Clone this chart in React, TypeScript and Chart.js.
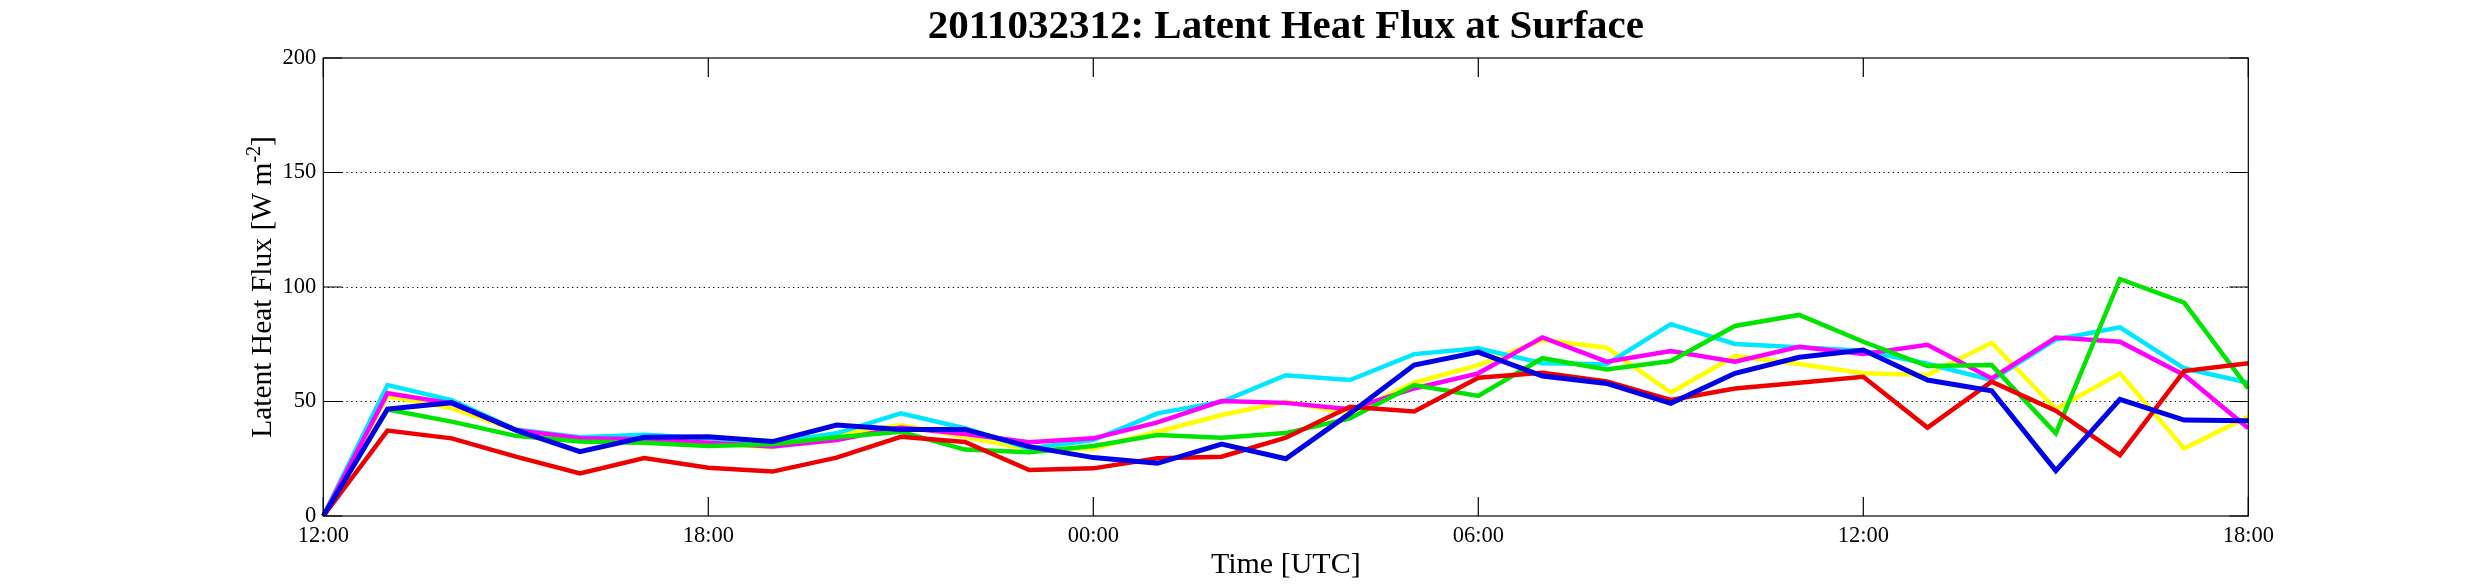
import React, { useEffect, useRef } from 'react';
import { Chart, registerables } from 'chart.js';

Chart.register(...registerables);

// hourly output, 2011-03-23 12 UTC to 2011-03-24 18 UTC
const timeLabels = [
  '12:00', '13:00', '14:00', '15:00', '16:00', '17:00', '18:00', '19:00', '20:00', '21:00', '22:00', '23:00',
  '00:00', '01:00', '02:00', '03:00', '04:00', '05:00', '06:00', '07:00', '08:00', '09:00', '10:00', '11:00',
  '12:00', '13:00', '14:00', '15:00', '16:00', '17:00', '18:00',
];

const yellowFlux = [0, 52.4, 47, 37.5, 33, 34, 32, 30, 35.5, 39.7, 34.6, 29.1, 29.5, 36.8, 44.1, 49.9,
  44.8, 58.2, 65.9, 76.9, 73.5, 53.9, 69.9, 66.4, 62.3, 61.6, 75.7, 46.6, 62.3, 29.5, 43.4];
const cyanFlux = [0, 57.2, 50.6, 37.8, 34.4, 35.5, 33.9, 32, 36.1, 44.8, 38.3, 29.5, 33.2, 44.8, 49.9, 61.5,
  59.4, 70.7, 73.2, 66.7, 66.3, 83.8, 75.1, 73.7, 72.2, 66.5, 59.4, 77.1, 82.4, 64.5, 58.2];
const magentaFlux = [0, 53.6, 49.2, 37.5, 34, 33.5, 32, 30.3, 33.2, 38.6, 35.8, 32.2, 33.9, 40.9, 50.2, 49.4,
  46.6, 55.7, 62.3, 78, 67.4, 72, 67.4, 73.9, 70.7, 74.8, 60.1, 77.9, 76.1, 61.6, 38.3];
const greenFlux = [0, 46.5, 41.2, 35, 32.5, 32, 30.6, 31.3, 34.4, 36.8, 29, 27.8, 30.6, 35.4, 34.2, 36.2,
  42.6, 57.2, 52.4, 68.9, 64, 67.7, 83, 87.8, 76.1, 65.5, 65.9, 36.1, 103.5, 93.2, 55.7];
const redFlux = [0, 37.3, 33.9, 25.9, 18.6, 25.3, 21.1, 19.4, 25.5, 34.6, 32.3, 20.1, 20.8, 25.2, 25.9, 34.2,
  47.7, 45.6, 60.4, 62.6, 58.7, 50.7, 55.7, 58.2, 60.8, 38.6, 58.7, 46, 26.6, 63.3, 66.7];
const blueFlux = [0, 46.7, 49.5, 37.5, 28.1, 34.4, 34.6, 32.5, 39.7, 37.8, 37.8, 30.3, 25.5, 23, 31.4, 25,
  44.8, 65.9, 71.6, 61.1, 57.9, 49.2, 62.3, 69.3, 72.5, 59.4, 54.7, 19.8, 50.9, 41.9, 41.6];

const serif = '"Liberation Serif", "Times New Roman", serif';

// matlab style box: frame, inward ticks on all four sides, y label with superscript
const axesBox = {
  id: 'axesBox',
  afterDraw(chart: any) {
    const { ctx, chartArea, scales } = chart;
    const { left, right, top, bottom } = chartArea;
    const tickLen = 19;

    ctx.save();
    ctx.strokeStyle = '#000';
    ctx.lineWidth = 1.2;
    ctx.strokeRect(left, top, right - left, bottom - top);
    ctx.beginPath();
    scales.y.ticks.forEach((t: any) => {
      const y = scales.y.getPixelForValue(t.value);
      ctx.moveTo(left, y);
      ctx.lineTo(left + tickLen, y);
      ctx.moveTo(right, y);
      ctx.lineTo(right - tickLen, y);
    });
    timeLabels.forEach((_, i) => {
      if (i % 6 !== 0) return;
      const x = scales.x.getPixelForValue(i);
      ctx.moveTo(x, bottom);
      ctx.lineTo(x, bottom - tickLen);
      ctx.moveTo(x, top);
      ctx.lineTo(x, top + tickLen);
    });
    ctx.stroke();

    // y axis title
    const main = 'Latent Heat Flux [W m';
    const sup = '-2';
    const tail = ']';
    const mainFont = `29.5px ${serif}`;
    const supFont = `20px ${serif}`;
    ctx.font = mainFont;
    const wMain = ctx.measureText(main).width;
    const wTail = ctx.measureText(tail).width;
    ctx.font = supFont;
    const wSup = ctx.measureText(sup).width;
    const total = wMain + wSup + wTail;

    ctx.translate(271, (top + bottom) / 2);
    ctx.rotate(-Math.PI / 2);
    ctx.fillStyle = '#000';
    ctx.textBaseline = 'alphabetic';
    ctx.textAlign = 'left';
    let x = -total / 2;
    ctx.font = mainFont;
    ctx.fillText(main, x, 0);
    x += wMain;
    ctx.font = supFont;
    ctx.fillText(sup, x, -11);
    x += wSup;
    ctx.font = mainFont;
    ctx.fillText(tail, x, 0);
    ctx.restore();
  },
};

const App: React.FC = () => {
  const chartRef = useRef<HTMLCanvasElement | null>(null);

  useEffect(() => {
    if (!chartRef.current) return;

    const line = (data: number[], color: string, width = 4.5) => ({
      data,
      borderColor: color,
      backgroundColor: color,
      borderWidth: width,
      pointRadius: 0,
      tension: 0,
      fill: false,
    });

    // first dataset is painted last (on top)
    const chart = new Chart(chartRef.current, {
      type: 'line',
      data: {
        labels: timeLabels,
        datasets: [
          line(blueFlux, '#0000e8', 5),
          line(redFlux, '#ee0000'),
          line(greenFlux, '#00e400'),
          line(magentaFlux, '#ff00ff'),
          line(cyanFlux, '#00e8ff'),
          line(yellowFlux, '#ffff00'),
        ],
      },
      options: {
        animation: false,
        responsive: true,
        maintainAspectRatio: false,
        layout: { padding: { top: 0, left: 0, right: 236.7, bottom: 0 } },
        plugins: {
          legend: { display: false },
          tooltip: { enabled: false },
          title: {
            display: true,
            fullSize: false,
            text: '2011032312: Latent Heat Flux at Surface',
            color: '#000',
            font: { family: serif, size: 41, weight: 'bold', lineHeight: 1.2 },
            padding: { top: 2.5, bottom: 6.3 },
          },
        },
        scales: {
          x: {
            type: 'category',
            offset: false,
            afterFit: (scale: any) => { scale.height = 68; },
            grid: { display: false, drawTicks: false },
            border: { display: false },
            ticks: {
              autoSkip: false,
              maxRotation: 0,
              padding: 6.5,
              color: '#000',
              font: { family: serif, size: 22.5 },
              callback: (_v: any, i: number) => (i % 6 === 0 ? timeLabels[i] : ''),
            },
            title: {
              display: true,
              text: 'Time [UTC]',
              color: '#000',
              font: { family: serif, size: 30, lineHeight: 1.2 },
              padding: { top: 0, bottom: 0.5 },
            },
          },
          y: {
            min: 0,
            max: 200,
            afterFit: (scale: any) => { scale.width = 323.3; },
            grid: {
              drawTicks: false,
              lineWidth: 1,
              color: (c: any) => (c.tick && c.tick.value > 0 && c.tick.value < 200 ? '#000' : 'rgba(0,0,0,0)'),
            },
            border: { display: false, dash: [1.3, 3.4] },
            ticks: {
              stepSize: 50,
              padding: 7,
              color: '#000',
              font: { family: serif, size: 22.5 },
            },
          },
        },
      },
      plugins: [axesBox],
    });

    return () => {
      chart.destroy();
    };
  }, []);

  return (
    <div style={{ position: 'absolute', left: 0, top: 0, width: 2485, height: 584, background: '#fff' }}>
      <canvas ref={chartRef}></canvas>
    </div>
  );
};

export default App;
